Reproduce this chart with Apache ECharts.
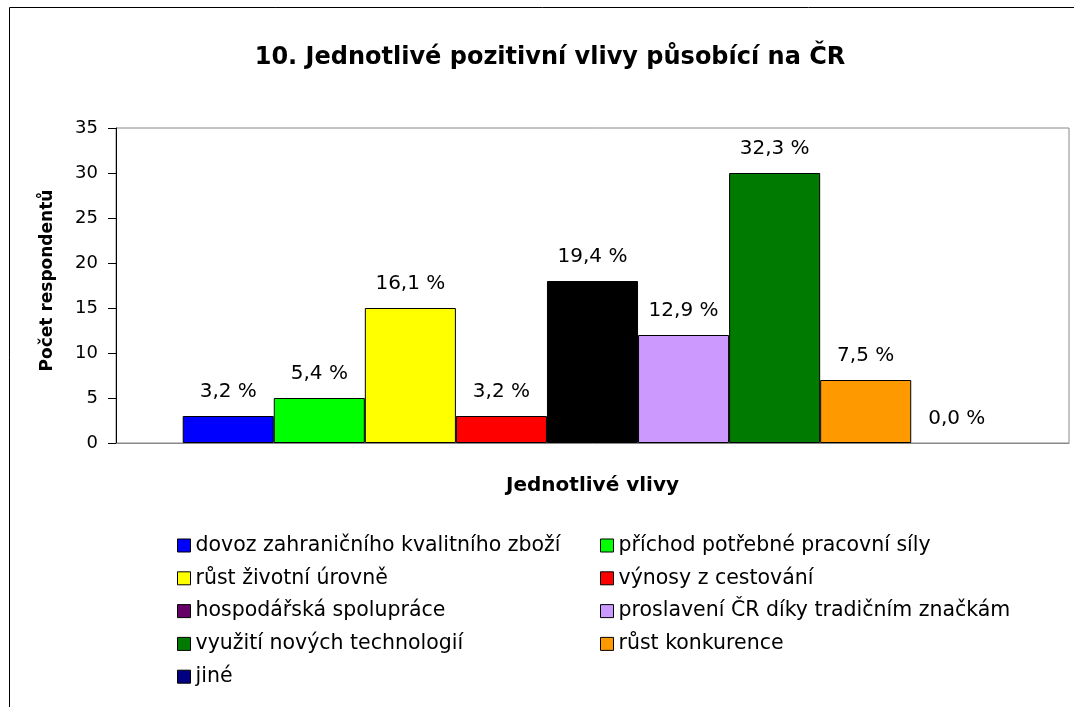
<!DOCTYPE html>
<html>
<head>
<meta charset="utf-8">
<script src="https://cdn.jsdelivr.net/npm/echarts@6/dist/echarts.min.js"></script>
<style>
html,body{margin:0;padding:0;background:#fff;}
#c{width:1074px;height:707px;}
</style>
</head>
<body>
<div id="c"></div>
<script>
const categories = ['Jednotlivé vlivy'];
const seriesNames = [
  'dovoz zahraničního kvalitního zboží',
  'příchod potřebné pracovní síly',
  'růst životní úrovně',
  'výnosy z cestování',
  'hospodářská spolupráce',
  'proslavení ČR díky tradičním značkám',
  'využití nových technologií',
  'růst konkurence',
  'jiné'
];
const values = [3, 5, 15, 3, 18, 12, 30, 7, 0];
const percentLabels = ['3,2 %', '5,4 %', '16,1 %', '3,2 %', '19,4 %', '12,9 %', '32,3 %', '7,5 %', '0,0 %'];
const yMin = 0, yMax = 35, yStep = 5;

const barColors = ['#0000FF', '#00FF00', '#FFFF00', '#FF0000', '#000000', '#CC99FF', '#007A00', '#FF9900', '#000080'];
const legendColors = ['#0000FF', '#00FF00', '#FFFF00', '#FF0000', '#660066', '#CC99FF', '#007A00', '#FF9900', '#000080'];

const FONT = 'DejaVu Sans';
const chart = echarts.init(document.getElementById('c'));

const series = seriesNames.map((n, i) => ({
  name: n,
  type: 'bar',
  data: [values[i]],
  barGap: '0%',
  barCategoryGap: '14%',
  itemStyle: { color: barColors[i], borderColor: '#000', borderWidth: values[i] > 0 ? 1 : 0 },
  label: {
    show: true, position: 'top', distance: 14,
    formatter: () => percentLabels[i],
    color: '#000', fontFamily: FONT, fontSize: 20
  },
  emphasis: { disabled: true }
}));

function legendData(idx) {
  return idx.map(i => ({ name: seriesNames[i], itemStyle: { color: legendColors[i], borderColor: '#000', borderWidth: 1 } }));
}
const legendCommon = {
  orient: 'vertical', icon: 'rect', itemWidth: 13, itemHeight: 13, itemGap: 11.8, padding: 0,
  textStyle: { fontFamily: FONT, fontSize: 20.5, lineHeight: 20, color: '#000' },
  selectedMode: false
};

chart.setOption({
  animation: false,
  title: {
    text: '10. Jednotlivé pozitivní vlivy působící na ČR',
    left: 545, top: 41, textAlign: 'center',
    textStyle: { fontFamily: FONT, fontSize: 24, fontWeight: 'bold', color: '#000' }
  },
  graphic: [{
    type: 'rect', shape: { x: 9.5, y: 7.5, width: 1200, height: 800 },
    style: { fill: 'none', stroke: '#000', lineWidth: 1 }, silent: true
  }],
  legend: [
    Object.assign({ left: 177, top: 535, height: 171, data: legendData([0, 2, 4, 6, 8]) }, legendCommon),
    Object.assign({ left: 600, top: 535, height: 171, data: legendData([1, 3, 5, 7]) }, legendCommon)
  ],
  grid: {
    left: 116, right: 5, top: 128, bottom: 264,
    show: true, borderColor: '#888', borderWidth: 1, backgroundColor: '#fff'
  },
  xAxis: {
    type: 'category', data: categories,
    name: 'Jednotlivé vlivy', nameLocation: 'middle', nameGap: 33,
    nameTextStyle: { fontFamily: FONT, fontSize: 20, fontWeight: 'bold', color: '#000' },
    axisLine: { lineStyle: { color: '#888' } },
    axisTick: { show: false }, axisLabel: { show: false }
  },
  yAxis: {
    type: 'value', min: yMin, max: yMax, interval: yStep,
    name: 'Počet respondentů', nameLocation: 'middle', nameGap: 60, nameRotate: 90,
    nameTextStyle: { fontFamily: FONT, fontSize: 17, fontWeight: 'bold', color: '#000', padding: [0, 0, 0, 10] },
    axisLine: { show: true, lineStyle: { color: '#000' } },
    axisTick: { show: true, length: 8, lineStyle: { color: '#000' } },
    axisLabel: { fontFamily: FONT, fontSize: 18, color: '#000', margin: 18 },
    splitLine: { show: false }
  },
  series: series
});
</script>
</body>
</html>
